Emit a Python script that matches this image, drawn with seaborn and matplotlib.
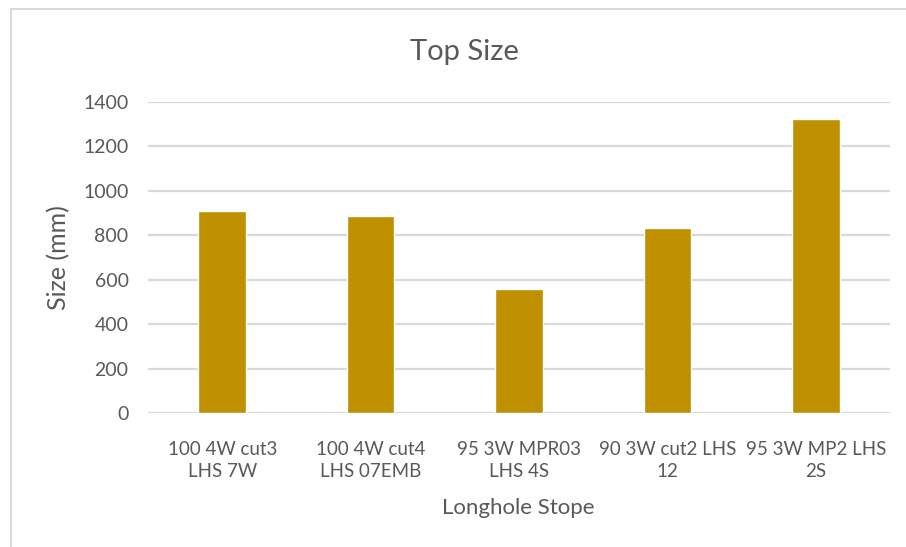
import matplotlib
matplotlib.use("Agg")
import matplotlib.pyplot as plt
from matplotlib.patches import Rectangle
import seaborn as sns
import pandas as pd

# Stope names and measured top sizes (mm)
stopes = [
    "100 4W cut3\nLHS 7W",
    "100 4W cut4\nLHS 07EMB",
    "95 3W MPR03\nLHS 4S",
    "90 3W cut2 LHS\n12",
    "95 3W MP2 LHS\n2S",
]
top_size = [911, 889, 557, 835, 1322]
y_ticks = [0, 200, 400, 600, 800, 1000, 1200, 1400]

sns.set_theme(style="white")
plt.rcParams["font.family"] = ["Lato", "DejaVu Sans"]

text_color = "#595959"
grid_color = "#d9d9d9"
bar_color = "#BF9000"

df = pd.DataFrame({"Stope": stopes, "Size": top_size})

W, H = 906, 547
fig = plt.figure(figsize=(W / 100, H / 100), dpi=100)
ax = fig.add_axes([148 / W, 1 - 413 / H, (890 - 148) / W, (413 - 102) / H])

sns.barplot(data=df, x="Stope", y="Size", color=bar_color, width=0.32,
            saturation=1, ax=ax, zorder=3)

ax.set_ylim(0, 1400)
ax.set_yticks(y_ticks)
ax.set_xlim(-0.5, len(stopes) - 0.5)
for t in y_ticks:
    ax.axhline(t, color=grid_color, lw=1.6, zorder=1)

for s in ax.spines.values():
    s.set_visible(False)
ax.tick_params(axis="both", length=0, colors=text_color)
ax.tick_params(axis="y", pad=14, labelsize=14)
ax.tick_params(axis="x", pad=20, labelsize=13.5)
for lbl in ax.get_xticklabels():
    lbl.set_linespacing(1.4)

ax.set_xlabel("")
ax.set_ylabel("")
fig.text(518 / W, 1 - 508 / H, "Longhole Stope", color=text_color,
         fontsize=16, ha="center", va="center")
fig.text(59 / W, 1 - 258 / H, "Size (mm)", color=text_color,
         fontsize=18, ha="center", va="center", rotation=90)
fig.text(464 / W, 1 - 52 / H, "Top Size", color=text_color,
         fontsize=21, ha="center", va="center")

# light frame around the chart area
fig.patches.append(Rectangle((11 / W, -0.05), 1.1, 1 - 9 / H + 0.05,
                             transform=fig.transFigure, fill=False,
                             edgecolor=grid_color, lw=1.5))

fig.savefig("out.png", dpi=100, facecolor="white")
